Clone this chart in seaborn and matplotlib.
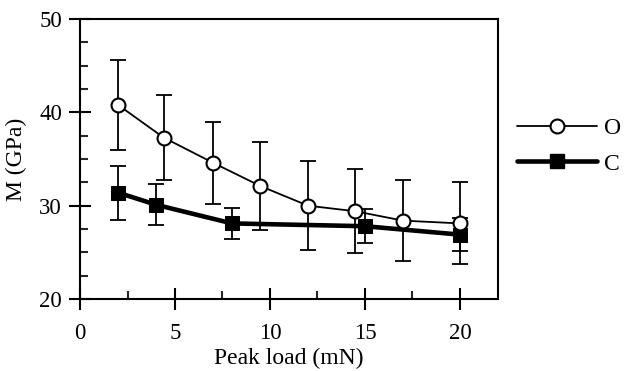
import numpy as np
import pandas as pd
import matplotlib
matplotlib.use("Agg")
import matplotlib.pyplot as plt
import seaborn as sns
from matplotlib.lines import Line2D
from matplotlib.ticker import MultipleLocator

# Data
load_o = [2, 4.4, 7, 9.5, 12, 14.5, 17, 20]
m_o = [40.8, 37.3, 34.6, 32.1, 30.0, 29.4, 28.4, 28.1]
err_o = [4.8, 4.6, 4.4, 4.7, 4.8, 4.5, 4.3, 4.4]

load_c = [2, 4, 8, 15, 20]
m_c = [31.4, 30.1, 28.1, 27.8, 26.9]
err_c = [2.9, 2.2, 1.7, 1.8, 1.8]

df_o = pd.DataFrame({'load': load_o, 'M': m_o})
df_c = pd.DataFrame({'load': load_c, 'M': m_c})

sns.set_style("ticks")
plt.rcParams['font.family'] = ['Liberation Serif', 'DejaVu Serif']
plt.rcParams['text.color'] = 'black'
plt.rcParams['axes.labelcolor'] = 'black'

fig = plt.figure(figsize=(6.29, 3.71), dpi=100)
ax = fig.add_axes([0.1272, 0.194, 0.6645, 0.7548])

# error bars
ax.errorbar(load_o, m_o, yerr=err_o, fmt='none', ecolor='black',
            elinewidth=1.3, capsize=5.5, capthick=1.3, zorder=2)
ax.errorbar(load_c, m_c, yerr=err_c, fmt='none', ecolor='black',
            elinewidth=1.3, capsize=5.5, capthick=1.3, zorder=2)

sns.lineplot(data=df_c, x='load', y='M', ax=ax, color='black', linewidth=3.3,
             marker='s', markersize=9.5, markerfacecolor='black',
             markeredgecolor='black', zorder=3)
sns.lineplot(data=df_o, x='load', y='M', ax=ax, color='black', linewidth=1.3,
             marker='o', markersize=10, markerfacecolor='white',
             markeredgecolor='black', markeredgewidth=1.5, zorder=4)

ax.set_xlim(0, 22)
ax.set_ylim(20, 50)
ax.xaxis.set_major_locator(MultipleLocator(5))
ax.xaxis.set_minor_locator(MultipleLocator(2.5))
ax.yaxis.set_major_locator(MultipleLocator(10))
ax.yaxis.set_minor_locator(MultipleLocator(2.5))
ax.set_xticks([0, 5, 10, 15, 20])

ax.tick_params(which='major', direction='inout', length=16, width=1.5,
               labelsize=16.5, colors='black')
ax.tick_params(axis='x', which='major', pad=9)
ax.tick_params(axis='y', which='major', pad=5)
ax.tick_params(which='minor', direction='in', length=6, width=1.5)
for s in ax.spines.values():
    s.set_visible(True)
    s.set_linewidth(1.5)
    s.set_color('black')

ax.set_xlabel('Peak load (mN)', fontsize=17, labelpad=3)
ax.set_ylabel('M (GPa)', fontsize=17, labelpad=9)

handles = [
    Line2D([0], [0], color='black', linewidth=1.3, marker='o', markersize=10,
           markerfacecolor='white', markeredgecolor='black', markeredgewidth=1.5),
    Line2D([0], [0], color='black', linewidth=3.3, marker='s', markersize=9.5,
           markerfacecolor='black', markeredgecolor='black'),
]
ax.legend(handles, ['O', 'C'], loc='center left', bbox_to_anchor=(0.994, 0.546),
          frameon=False, fontsize=17, handlelength=3.4, handletextpad=0.3,
          labelspacing=0.6)

fig.savefig('out.png', dpi=100)
